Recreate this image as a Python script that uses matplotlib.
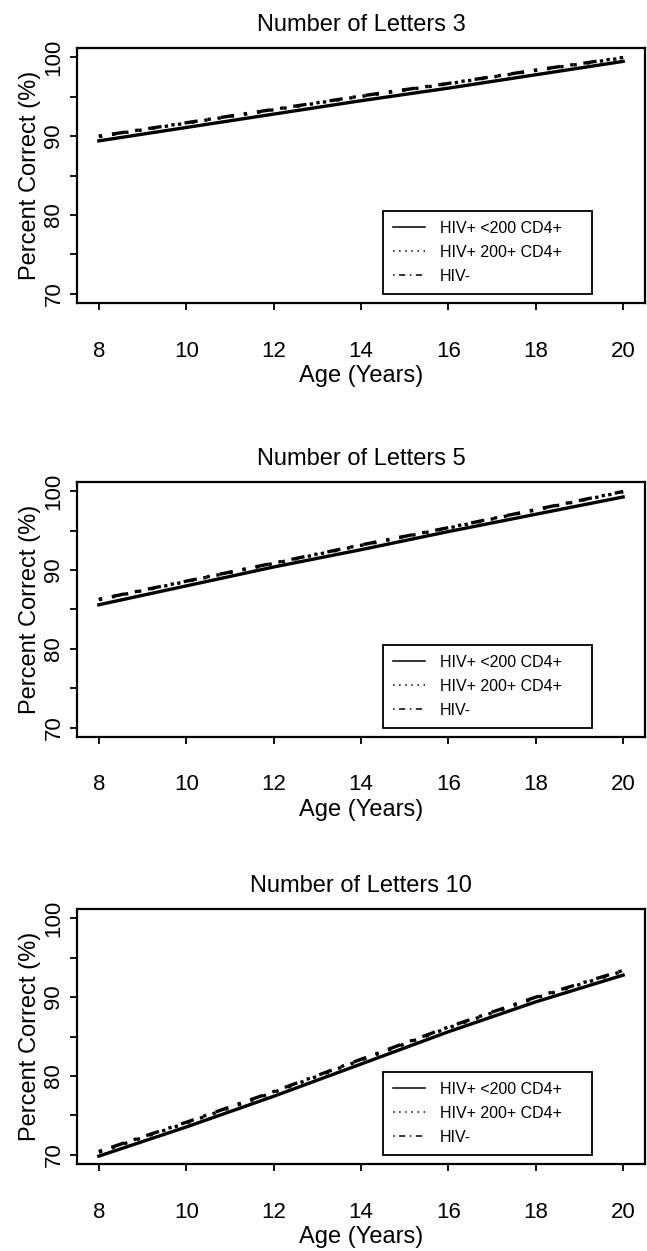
import numpy as np
import matplotlib.pyplot as plt
from matplotlib.lines import Line2D

plt.rcParams['font.family'] = ['Liberation Sans', 'DejaVu Sans']

ages = [8, 10, 12, 14, 16, 18, 20]
series_labels = ['HIV+ <200 CD4+', 'HIV+ 200+ CD4+', 'HIV-']
panel_titles = ['Number of Letters 3', 'Number of Letters 5', 'Number of Letters 10']

# percent correct per panel: low CD4, high CD4, HIV-
letters3_low = [89.4, 91.1, 92.8, 94.5, 96.1, 97.8, 99.5]
letters3_high = [89.95, 91.65, 93.35, 95.05, 96.65, 98.35, 99.95]
letters3_neg = [90.0, 91.7, 93.4, 95.1, 96.7, 98.4, 100.0]

letters5_low = [85.6, 88.0, 90.4, 92.6, 94.9, 97.1, 99.3]
letters5_high = [86.25, 88.55, 90.85, 93.15, 95.35, 97.65, 99.95]
letters5_neg = [86.3, 88.6, 90.9, 93.2, 95.4, 97.7, 100.0]

letters10_low = [69.8, 73.5, 77.4, 81.5, 85.6, 89.4, 92.8]
letters10_high = [70.3, 74.0, 77.9, 82.0, 86.1, 89.9, 93.3]
letters10_neg = [70.4, 74.1, 78.0, 82.1, 86.2, 90.0, 93.4]

panels = [
    (letters3_low, letters3_high, letters3_neg),
    (letters5_low, letters5_high, letters5_neg),
    (letters10_low, letters10_high, letters10_neg),
]

styles = ['-', (0, (1, 3)), (0, (1, 3, 4, 3))]

W, H = 647, 1251
fig = plt.figure(figsize=(W / 100, H / 100), dpi=100)

# box tops in pixels for each panel
tops = [48, 482, 909]
box_h = 255
left_px, right_px = 77, 645

for k, top in enumerate(tops):
    ax = fig.add_axes([left_px / W, 1 - (top + box_h) / H, (right_px - left_px) / W, box_h / H])
    for vals, ls in zip(panels[k], styles):
        ax.plot(ages, vals, color='black', linestyle=ls, linewidth=2.4)

    ax.set_xlim(7.5, 20.5)
    ax.set_ylim(68.8, 101.2)
    ax.set_xticks(ages)
    ax.set_yticks([70, 80, 90, 100])
    ax.set_yticks([75, 85, 95], minor=True)
    ax.tick_params(axis='both', which='both', direction='out', length=5, width=1.3, colors='black')
    ax.tick_params(axis='x', labelsize=16, pad=22)
    ax.tick_params(axis='y', labelsize=16, pad=4)
    for lab in ax.get_yticklabels():
        lab.set_rotation(90)
        lab.set_va('center')
    for sp in ax.spines.values():
        sp.set_linewidth(1.6)

    ax.set_title(panel_titles[k], fontsize=17, pad=12)
    ax.set_xlabel('Age (Years)', fontsize=17)
    ax.set_ylabel('Percent Correct (%)', fontsize=17)
    ax.xaxis.set_label_coords(0.5, -0.245)
    ax.yaxis.set_label_coords(-0.064, 0.5)

    handles = [Line2D([], [], color='black', linestyle=ls, linewidth=1.1) for ls in styles]
    leg = ax.legend(handles, series_labels, loc='lower left', mode='expand',
                    bbox_to_anchor=(14.5, 69.95, 4.79, 0.5),
                    bbox_transform=ax.transData, borderaxespad=0, fontsize=11.5,
                    fancybox=False, framealpha=1, edgecolor='black',
                    handlelength=2.0, handletextpad=0.9, labelspacing=0.55, borderpad=0.65)
    leg.get_frame().set_linewidth(1.3)

fig.savefig('out.png', dpi=100)
